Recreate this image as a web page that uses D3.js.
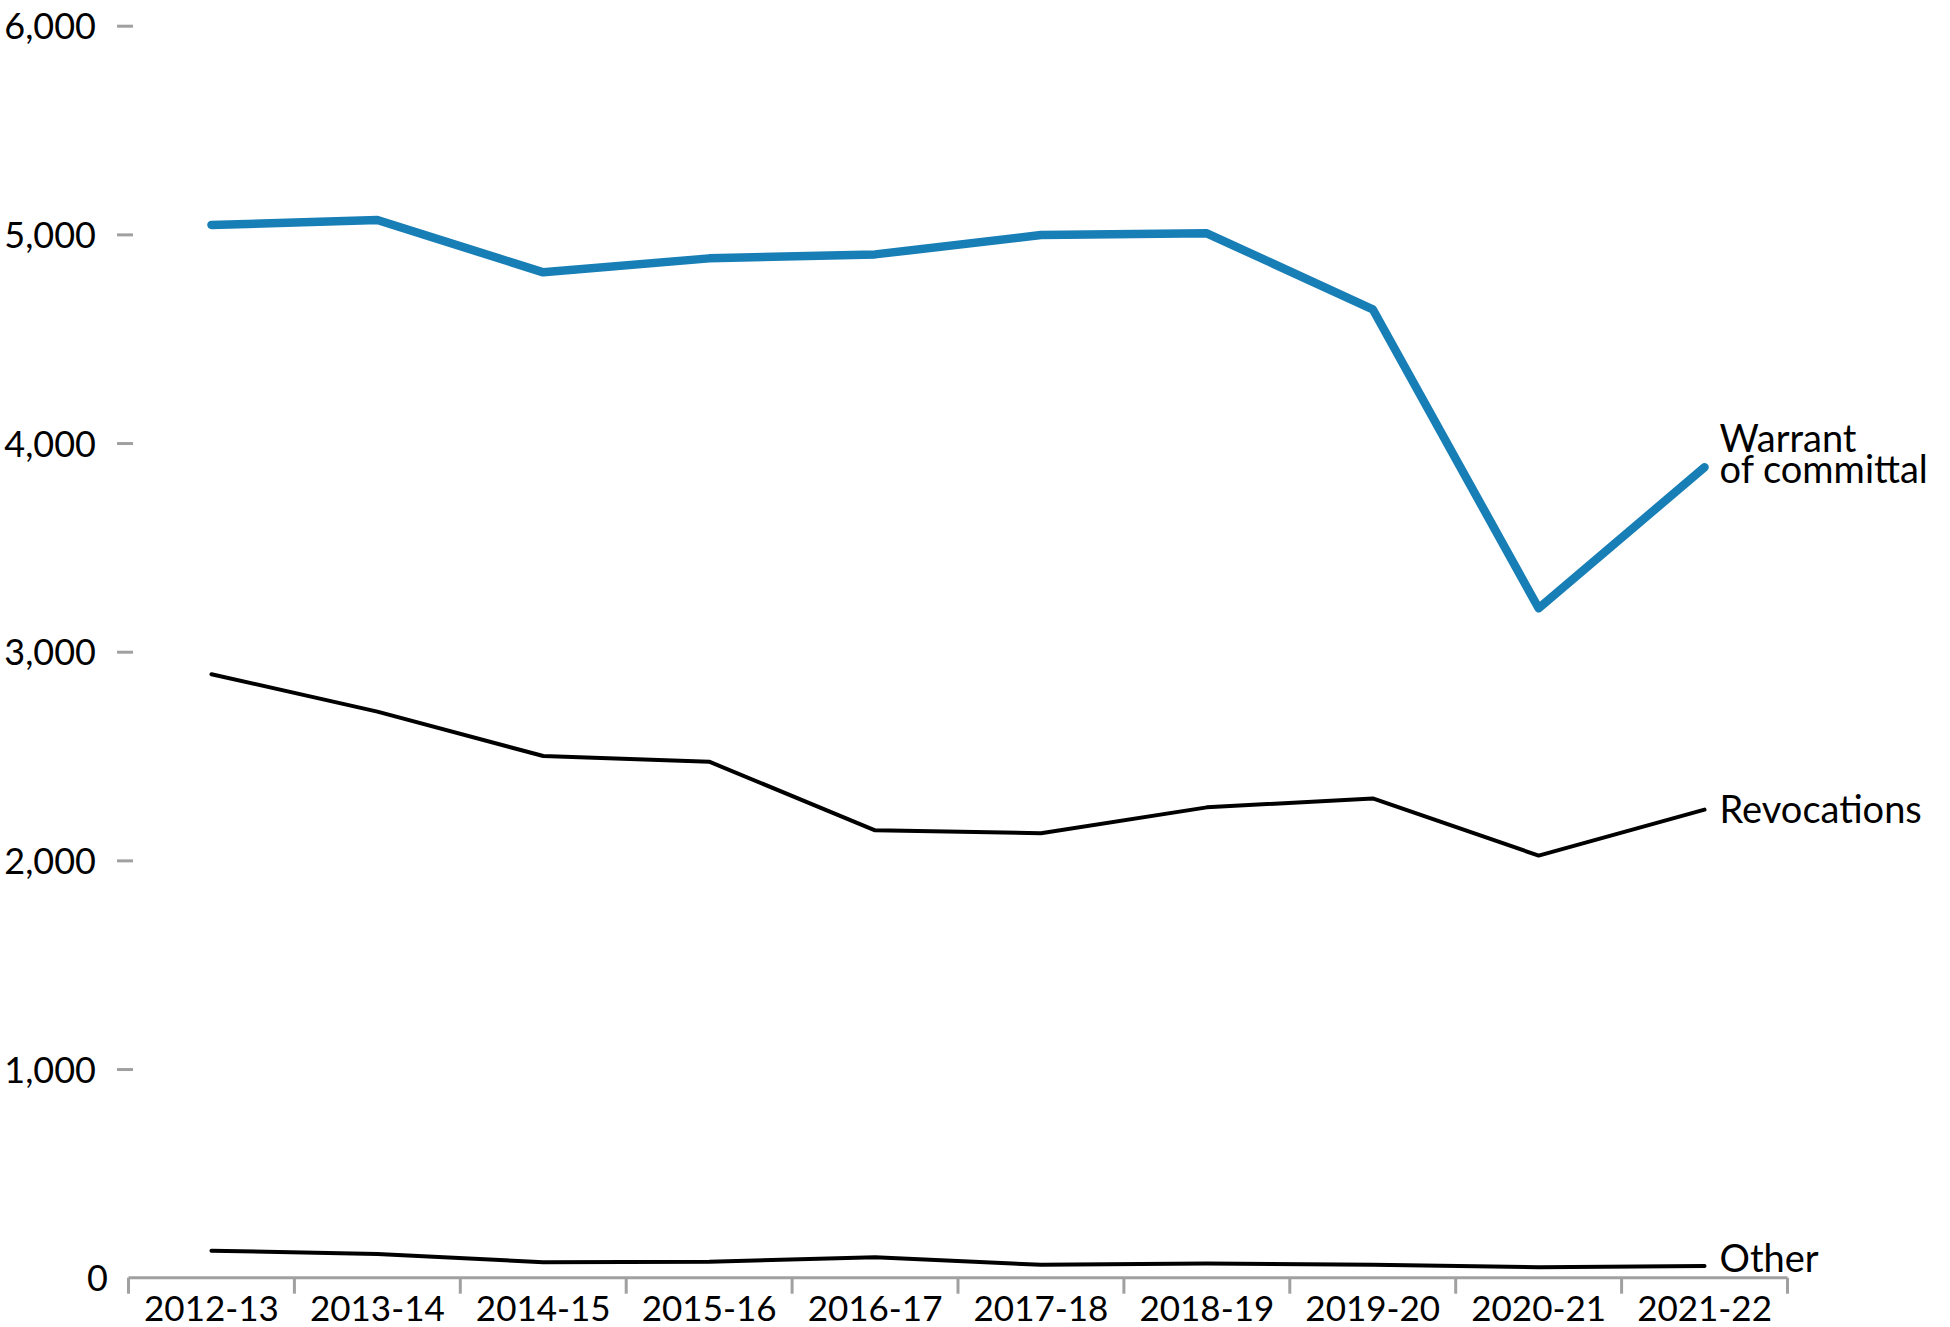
<!DOCTYPE html>
<html>
<head>
<meta charset="utf-8">
<script src="https://cdn.jsdelivr.net/npm/d3@7"></script>
<style>
  html, body { margin: 0; padding: 0; background: #fff; }
  svg { display: block; }
  text { font-family: Lato, "Open Sans", sans-serif; fill: #000; }
</style>
</head>
<body>
<svg id="chart" width="1950" height="1327"></svg>
<script>
const categories = ["2012-13","2013-14","2014-15","2015-16","2016-17","2017-18","2018-19","2019-20","2020-21","2021-22"];
const warrant = [5045, 5069, 4818, 4885, 4904, 4997, 5005, 4641, 3208, 3884];
const revocations = [2892, 2713, 2500, 2473, 2144, 2130, 2254, 2297, 2023, 2243];
const other = [129, 114, 74, 77, 98, 62, 68, 62, 50, 56];
const yTicks = [0, 1000, 2000, 3000, 4000, 5000, 6000];
const seriesNames = ["Warrant of committal", "Revocations", "Other"];

const svg = d3.select("#chart");
const x = d3.scaleBand().domain(categories).range([128.5, 1787.5]).padding(0);
const y = d3.scaleLinear().domain([0, 6000]).range([1277.7, 25.7]);
const cx = d => x(d) + x.bandwidth() / 2;

const grey = "#a0a0a0";

// Y axis ticks (no domain line)
const yAxis = d3.axisLeft(y).tickValues(yTicks.filter(v => v > 0)).tickSize(16).tickPadding(21)
  .tickFormat(d3.format(","));
const gy = svg.append("g").attr("transform", "translate(133,0)").call(yAxis);
gy.select(".domain").remove();
gy.selectAll(".tick line").attr("stroke", grey).attr("stroke-width", 3);
gy.selectAll(".tick text").attr("font-size", 36).attr("dy", "0.36em")
  .style("font-family", "Lato, 'Open Sans', sans-serif").attr("fill", "#000");
// zero label
svg.append("text").attr("x", 108).attr("y", y(0)).attr("dy", "0.36em")
  .attr("text-anchor", "end").attr("font-size", 36).text(d3.format(",")(yTicks[0]));

// X axis
const gx = svg.append("g").attr("transform", `translate(0,${y(0)})`);
gx.append("line").attr("x1", x.range()[0]).attr("x2", x.range()[1]).attr("y1", 0).attr("y2", 0)
  .attr("stroke", grey).attr("stroke-width", 3);
const bounds = categories.map(c => x(c)).concat([x.range()[1]]);
gx.selectAll("line.bt").data(bounds).join("line").attr("class", "bt")
  .attr("x1", d => d).attr("x2", d => d).attr("y1", 0).attr("y2", 16)
  .attr("stroke", grey).attr("stroke-width", 3);
gx.selectAll("text.xl").data(categories).join("text").attr("class", "xl")
  .attr("x", d => cx(d)).attr("y", 43).attr("text-anchor", "middle")
  .attr("font-size", 35).text(d => d);

// Lines
const line = d3.line().x((d, i) => cx(categories[i])).y(d => y(d));
svg.append("path").datum(other).attr("d", line).attr("fill", "none")
  .attr("stroke", "#000").attr("stroke-width", 4).attr("stroke-linecap", "round").attr("stroke-linejoin", "round");
svg.append("path").datum(revocations).attr("d", line).attr("fill", "none")
  .attr("stroke", "#000").attr("stroke-width", 4).attr("stroke-linecap", "round").attr("stroke-linejoin", "round");
svg.append("path").datum(warrant).attr("d", line).attr("fill", "none")
  .attr("stroke", "#177eb6").attr("stroke-width", 8.5).attr("stroke-linecap", "round").attr("stroke-linejoin", "round");

// Series labels
const lastX = cx(categories[categories.length - 1]) + 15;
const wl = svg.append("text").attr("x", lastX).attr("font-size", 38);
wl.append("tspan").attr("x", lastX).attr("y", y(warrant[9]) - 15).text("Warrant");
wl.append("tspan").attr("x", lastX).attr("y", y(warrant[9]) + 16).text("of committal");
svg.append("text").attr("x", lastX).attr("y", y(revocations[9]) + 13).attr("font-size", 38).text(seriesNames[1]);
svg.append("text").attr("x", lastX).attr("y", y(other[9]) + 6).attr("font-size", 38).text(seriesNames[2]);
</script>
</body>
</html>
